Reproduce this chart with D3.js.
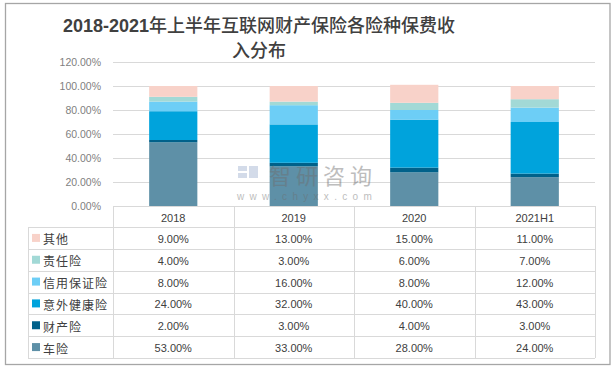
<!DOCTYPE html>
<html>
<head>
<meta charset="utf-8">
<script src="https://cdn.jsdelivr.net/npm/d3@7"></script>
<style>
  html, body { margin: 0; padding: 0; background: #fff; }
  svg { display: block; }
</style>
</head>
<body>
<svg id="chart" width="616" height="369"></svg>
<script>
// ---- data ----
const categories = ['2018', '2019', '2020', '2021H1'];
const seriesNames = ['车险', '财产险', '意外健康险', '信用保证险', '责任险', '其他'];
const cheXian   = [53, 33, 28, 24];
const caiChan   = [2, 3, 4, 3];
const yiWai     = [24, 32, 40, 43];
const xinYong   = [8, 16, 8, 12];
const zeRen     = [4, 3, 6, 7];
const qiTa      = [9, 13, 15, 11];
const yTicks    = [0, 0.2, 0.4, 0.6, 0.8, 1.0, 1.2];
const seriesColors = ['#5E90A7', '#00618A', '#00A3DC', '#6DCEF6', '#A2D9D6', '#F8D2C9'];
const titleLine1Num = '2018-2021';
const titleLine1Txt = '年上半年互联网财产保险各险种保费收';
const titleLine2 = '入分布';

const seriesValues = [cheXian, caiChan, yiWai, xinYong, zeRen, qiTa];
const rows = categories.map((c, i) => {
  const r = { cat: c };
  seriesNames.forEach((s, j) => r[s] = seriesValues[j][i] / 100);
  return r;
});

const svg = d3.select('#chart');
const fontLatin = '"Liberation Sans", Arial, "Noto Sans CJK SC", sans-serif';
const fontCJK = '"Noto Sans CJK SC", "Liberation Sans", sans-serif';

// outer border
svg.append('rect').attr('x', 5.5).attr('y', 3.5).attr('width', 604.5).attr('height', 361)
  .attr('fill', '#fff').attr('stroke', '#a6a6a6').attr('stroke-width', 1.3);

// title
const t1 = svg.append('text').attr('x', 259).attr('y', 32).attr('text-anchor', 'middle')
  .attr('fill', '#404040').attr('font-size', 18);
t1.append('tspan').attr('font-family', fontLatin).attr('font-weight', 'bold').text(titleLine1Num);
t1.append('tspan').attr('font-family', fontCJK).attr('font-weight', 500).text(titleLine1Txt);
svg.append('text').attr('x', 259).attr('y', 57).attr('text-anchor', 'middle')
  .attr('fill', '#404040').attr('font-size', 18).attr('font-family', fontCJK).attr('font-weight', 500)
  .text(titleLine2);

// scales
const x0 = 113, x1 = 595;
const x = d3.scaleBand().domain(categories).range([x0, x1]).paddingInner(0.6).paddingOuter(0.3);
const colX = d3.scaleBand().domain(categories).range([x0, x1]);
const y = d3.scaleLinear().domain([0, 1.2]).range([206, 62]);
const color = d3.scaleOrdinal().domain(seriesNames).range(seriesColors);

// grid + y labels via axis
const yAxis = d3.axisLeft(y).tickValues(yTicks).tickFormat(d3.format('.2%')).tickSize(-(x1 - x0)).tickPadding(12);
const gy = svg.append('g').attr('transform', `translate(${x0},0)`).call(yAxis);
gy.select('.domain').remove();
gy.selectAll('.tick line').attr('stroke', '#d9d9d9').attr('stroke-width', 1);
gy.selectAll('.tick text').attr('fill', '#7f7f7f').attr('font-size', 10.5).attr('font-family', fontLatin);

// stacked bars
const stack = d3.stack().keys(seriesNames);
const stacked = stack(rows);
svg.append('g').selectAll('g').data(stacked).join('g')
  .attr('fill', d => color(d.key))
  .selectAll('rect').data(d => d).join('rect')
  .attr('x', d => x(d.data.cat))
  .attr('width', x.bandwidth())
  .attr('y', d => y(d[1]))
  .attr('height', d => y(d[0]) - y(d[1]));

// watermark
const wm = svg.append('g').attr('opacity', 0.45);
wm.append('rect').attr('x', 238).attr('y', 166).attr('width', 9).attr('height', 5).attr('fill', '#9fb0d0');
wm.append('rect').attr('x', 238).attr('y', 173).attr('width', 9).attr('height', 5).attr('fill', '#9fb0d0');
wm.append('rect').attr('x', 249).attr('y', 166).attr('width', 9).attr('height', 12).attr('fill', '#9fb0d0');
wm.append('text').attr('x', 269).attr('y', 184).attr('font-size', 22).attr('letter-spacing', 5)
  .attr('font-family', fontCJK).attr('fill', '#6e6e6e').text('智研咨询');
wm.append('text').attr('x', 237).attr('y', 200).attr('font-size', 10).attr('letter-spacing', 5.3)
  .attr('font-family', fontLatin).attr('fill', '#6e6e6e').text('www.chyxx.com');

// data table
const headerTop = 206, headerBottom = 227, tableBottom = 358, legendLeft = 28;
const tableRows = seriesNames.slice().reverse();
const rowY = d3.scaleBand().domain(tableRows).range([headerBottom, tableBottom]);
const grid = svg.append('g').attr('stroke', '#d9d9d9').attr('stroke-width', 1).attr('fill', 'none');
// horizontal lines
grid.append('line').attr('x1', x0).attr('x2', x1).attr('y1', headerTop + 0.5).attr('y2', headerTop + 0.5);
tableRows.forEach((r, i) => {
  const yy = Math.round(rowY(r)) + 0.5;
  grid.append('line').attr('x1', legendLeft).attr('x2', x1).attr('y1', yy).attr('y2', yy);
});
grid.append('line').attr('x1', legendLeft).attr('x2', x1).attr('y1', tableBottom + 0.5).attr('y2', tableBottom + 0.5);
// vertical lines
grid.append('line').attr('x1', legendLeft + 0.5).attr('x2', legendLeft + 0.5).attr('y1', headerBottom).attr('y2', tableBottom);
categories.forEach(c => {
  const xx = Math.round(colX(c)) + 0.5;
  grid.append('line').attr('x1', xx).attr('x2', xx).attr('y1', headerTop).attr('y2', tableBottom);
});
grid.append('line').attr('x1', x1 + 0.5).attr('x2', x1 + 0.5).attr('y1', headerTop).attr('y2', tableBottom);

// header labels
svg.append('g').selectAll('text').data(categories).join('text')
  .attr('x', d => colX(d) + colX.bandwidth() / 2)
  .attr('y', (headerTop + headerBottom) / 2 + 1)
  .attr('text-anchor', 'middle').attr('dominant-baseline', 'central')
  .attr('font-size', 11).attr('font-family', fontLatin).attr('fill', '#404040')
  .text(d => d);

// legend cells
const leg = svg.append('g').selectAll('g').data(tableRows).join('g')
  .attr('transform', d => `translate(0,${rowY(d) + rowY.bandwidth() / 2})`);
leg.append('rect').attr('x', 32).attr('y', -4).attr('width', 8).attr('height', 8).attr('fill', d => color(d));
leg.append('text').attr('x', 43).attr('y', 1).attr('dominant-baseline', 'central')
  .attr('font-size', 12).attr('letter-spacing', 1).attr('font-family', fontCJK).attr('fill', '#404040')
  .text(d => d);

// values
const fmt = d3.format('.2%');
tableRows.forEach(s => {
  svg.append('g').selectAll('text').data(rows).join('text')
    .attr('x', d => colX(d.cat) + colX.bandwidth() / 2)
    .attr('y', rowY(s) + rowY.bandwidth() / 2 + 1)
    .attr('text-anchor', 'middle').attr('dominant-baseline', 'central')
    .attr('font-size', 11).attr('font-family', fontLatin).attr('fill', '#404040')
    .text(d => fmt(d[s]));
});
</script>
</body>
</html>
